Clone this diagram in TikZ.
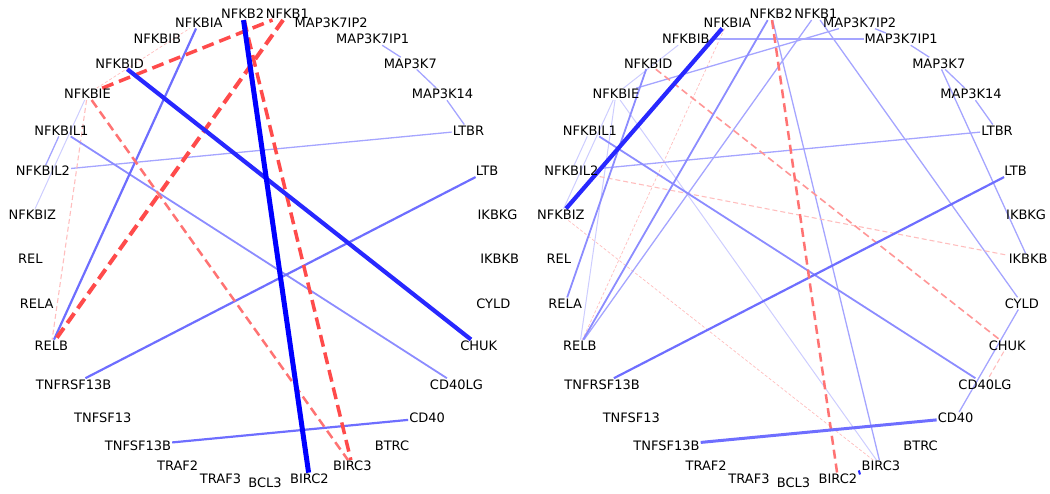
\documentclass[tikz,border=0pt]{standalone}
\usepackage{fontspec}
\setmainfont{DejaVu Sans}
\usetikzlibrary{backgrounds}
\definecolor{b0}{RGB}{0,0,255}
\definecolor{b1}{RGB}{40,40,255}
\definecolor{b2}{RGB}{110,110,255}
\definecolor{b3}{RGB}{140,140,255}
\definecolor{b4}{RGB}{165,165,255}
\definecolor{b5}{RGB}{205,205,255}
\definecolor{r1}{RGB}{255,75,75}
\definecolor{r2}{RGB}{255,115,115}
\definecolor{r3}{RGB}{255,150,150}
\definecolor{r4}{RGB}{255,190,190}
\begin{document}
\begin{tikzpicture}[x=1pt,y=-1pt,
  lbl/.style={inner sep=1pt, font=\fontsize{13}{15}\selectfont},
  rdA/.style={r1, line width=4pt, dash pattern=on 12pt off 6pt},
  rdB/.style={r1, line width=3.5pt, dash pattern=on 12pt off 6pt},
  rdC/.style={r2, line width=2.5pt, dash pattern=on 9pt off 5pt},
  rdD/.style={r3, line width=1.6pt, dash pattern=on 7pt off 4pt},
  rdE/.style={r4, line width=1.1pt, dash pattern=on 5pt off 3pt},
  rdF/.style={r4, line width=0.7pt, dash pattern=on 3pt off 2pt},
  blA/.style={b0, line width=5pt},
  blB/.style={b1, line width=4.2pt},
  blC/.style={b2, line width=2.2pt},
  blD/.style={b3, line width=1.8pt},
  blE/.style={b4, line width=1.3pt},
  blF/.style={b5, line width=1pt},
  ]
\useasboundingbox (0,0) rectangle (1050,493);
\foreach \n [count=\i from 0] in {BCL3,BIRC2,BIRC3,BTRC,CD40,CD40LG,CHUK,CYLD,IKBKB,IKBKG,LTB,LTBR,MAP3K14,MAP3K7,MAP3K7IP1,MAP3K7IP2,NFKB1,NFKB2,NFKBIA,NFKBIB,NFKBID,NFKBIE,NFKBIL1,NFKBIL2,NFKBIZ,REL,RELA,RELB,TNFRSF13B,TNFSF13,TNFSF13B,TRAF2,TRAF3}{
  \pgfmathsetmacro\ang{90-360/33*\i}
  \node[lbl] (L\n) at ({265+235*cos(\ang)},{248+235*sin(\ang)}) {\n};
  \node[lbl] (R\n) at ({793.5+235*cos(\ang)},{248+235*sin(\ang)}) {\n};
}
\begin{pgfonlayer}{background}
% ---------- left network ----------
\draw[blF] (LNFKBIE) -- (LNFKBIZ);
\draw[blE] (LNFKBIL1) -- (LNFKBIL2);
\draw[blE] (LNFKBIL2) -- (LLTBR);
\draw[blE] (LMAP3K7IP1) -- (LMAP3K7);
\draw[blE] (LMAP3K7) -- (LMAP3K14);
\draw[blE] (LMAP3K14) -- (LLTBR);
\draw[rdF] (LNFKBIE) -- (LNFKBIA);
\draw[rdE] (LNFKBIE) -- (LRELB);
\draw[blD] (LNFKBIL1) -- (LCD40LG);
\draw[blC] (LNFKBIA) -- (LRELB);
\draw[blC] (LLTB) -- (LTNFRSF13B);
\draw[blC] (LCD40) -- (LTNFSF13B);
\draw[rdC] (LNFKBIE) -- (LBIRC3);
\draw[rdB] (LNFKBIE) -- (LNFKB1);
\draw[rdB] (LNFKB2) -- (LBIRC3);
\draw[rdA] (LNFKB1) -- (LRELB);
\draw[blB] (LNFKBID) -- (LCHUK);
\draw[blA] (LNFKB2) -- (LBIRC2);
% ---------- right network ----------
\draw[blF] (RNFKBIB) -- (RNFKBIE);
\draw[blF] (RNFKBIE) -- (RNFKBIZ);
\draw[blF] (RNFKBIL1) -- (RNFKBIL2);
\draw[blF] (RNFKBIE) -- (RRELB);
\draw[blF] (RNFKBIE) -- (RBIRC3);
\draw[rdF] (RNFKBIZ) -- (RBIRC3);
\draw[rdF] (RNFKBIA) -- (RRELB);
\draw[blE] (RNFKBIB) -- (RMAP3K7IP1);
\draw[blE] (RNFKBIE) -- (RMAP3K7IP2);
\draw[blE] (RMAP3K7IP2) -- (RMAP3K7IP1);
\draw[blE] (RMAP3K7IP1) -- (RMAP3K7);
\draw[blE] (RMAP3K7) -- (RMAP3K14);
\draw[blE] (RMAP3K14) -- (RLTBR);
\draw[blE] (RMAP3K7) -- (RIKBKB);
\draw[blE] (RNFKB1) -- (RCYLD);
\draw[blE] (RNFKB2) -- (RBIRC3);
\draw[blE] (RNFKB1) -- (RRELB);
\draw[blE] (RNFKBIL2) -- (RLTBR);
\draw[blE] (RCYLD) -- (RCD40);
\draw[rdE] (RNFKBIL2) -- (RIKBKB);
\draw[rdE] (RCHUK) -- (RCD40LG);
\draw[rdD] (RNFKBID) -- (RCHUK);
\draw[blD] (RNFKB2) -- (RRELB);
\draw[blD] (RNFKBID) -- (RRELA);
\draw[blD] (RNFKBIL1) -- (RCD40LG);
\draw[blC] (RLTB) -- (RTNFRSF13B);
\draw[rdC] (RNFKB2) -- (RBIRC2);
\draw[b2, line width=3pt] (RTNFSF13B) -- (RCD40);
\draw[blB] (RBIRC2) -- (RBIRC3);
\draw[blB] (RNFKBIA) -- (RNFKBIZ);
\end{pgfonlayer}
\end{tikzpicture}
\end{document}
